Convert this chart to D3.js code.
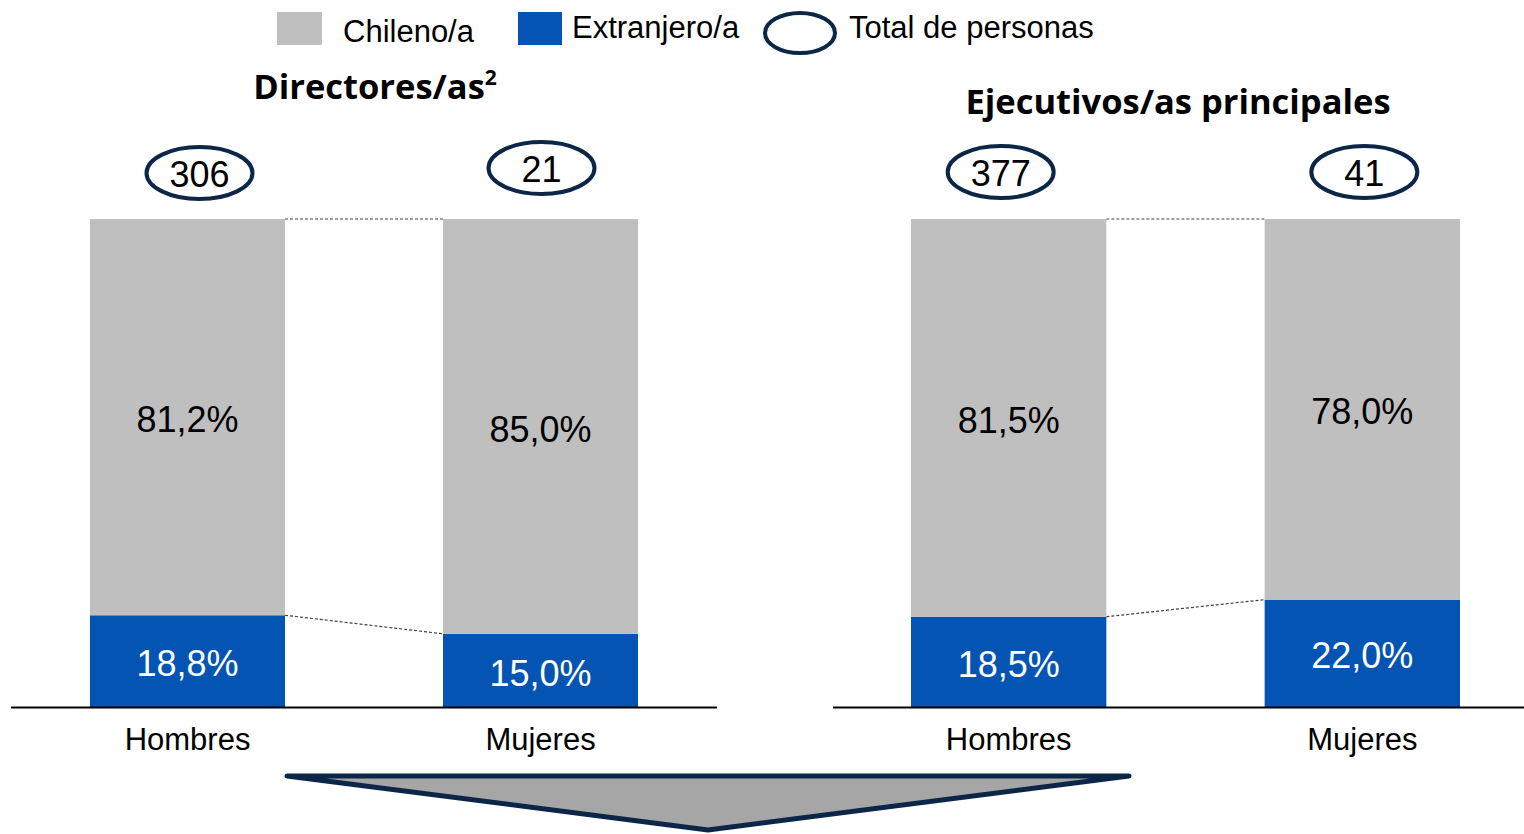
<!DOCTYPE html>
<html>
<head>
<meta charset="utf-8">
<script src="https://cdn.jsdelivr.net/npm/d3@7/dist/d3.min.js"></script>
<style>
  html, body { margin: 0; padding: 0; background: #fff; }
  svg { display: block; }
</style>
</head>
<body>
<svg id="chart" width="1524" height="834"></svg>
<script>
// ---- data ----
const categories = ["Hombres", "Mujeres"];
const panels = ["Directores/as", "Ejecutivos/as principales"];
const chilenoValues = [[81.2, 85.0], [81.5, 78.0]];
const extranjeroValues = [[18.8, 15.0], [18.5, 22.0]];
const totals = [[306, 21], [377, 41]];
const legendLabels = ["Chileno/a", "Extranjero/a", "Total de personas"];

// ---- style / layout ----
const GRAY = "#bfbfbf", BLUE = "#0455b3", NAVY = "#0c2647";
const FONT = "'Liberation Sans', Arial, sans-serif";
const TITLE_FONT = "'Open Sans', 'Noto Sans', sans-serif";
const layout = [
  { range: [90, 638], axis: [11, 717], titleX: 375, titleY: 99, ellDx: [12, 1], ellY: [173, 168] },
  { range: [911, 1460], axis: [833, 1524], titleX: 1178, titleY: 114, ellDx: [-8, 2], ellY: [172, 172] }
];
const fmt = v => d3.format(".1f")(v).replace(".", ",") + "%";

const svg = d3.select("#chart");
const y = d3.scaleLinear().domain([0, 100]).range([707, 219]);

panels.forEach((title, p) => {
  const L = layout[p];
  const x = d3.scaleBand().domain(categories).range(L.range).paddingInner(158 / 353).paddingOuter(0);
  const g = svg.append("g");
  const bw = x.bandwidth();

  // dashed connectors
  const conn = [
    [100, 100],
    [extranjeroValues[p][0], extranjeroValues[p][1]]
  ];
  conn.forEach(c => {
    g.append("line")
      .attr("x1", x(categories[0]) + bw).attr("y1", y(c[0]))
      .attr("x2", x(categories[1])).attr("y2", y(c[1]))
      .attr("stroke", "#404040").attr("stroke-width", 1.2)
      .attr("stroke-dasharray", "3,2");
  });

  categories.forEach((cat, i) => {
    const ext = extranjeroValues[p][i], chi = chilenoValues[p][i];
    // blue (bottom)
    g.append("rect").attr("x", x(cat)).attr("width", bw)
      .attr("y", y(ext)).attr("height", y(0) - y(ext)).attr("fill", BLUE);
    // gray (top)
    g.append("rect").attr("x", x(cat)).attr("width", bw)
      .attr("y", y(ext + chi)).attr("height", y(ext) - y(ext + chi)).attr("fill", GRAY);
    // labels
    g.append("text").attr("x", x(cat) + bw / 2).attr("y", (y(ext) + y(ext + chi)) / 2)
      .attr("dy", "0.42em").attr("text-anchor", "middle")
      .attr("font-family", FONT).attr("font-size", 36).attr("fill", "#000")
      .text(fmt(chi));
    g.append("text").attr("x", x(cat) + bw / 2).attr("y", (y(0) + y(ext)) / 2)
      .attr("dy", "0.42em").attr("text-anchor", "middle")
      .attr("font-family", FONT).attr("font-size", 36).attr("fill", "#fff")
      .text(fmt(ext));
    // total ellipse
    const cx = x(cat) + bw / 2 + L.ellDx[i], cy = L.ellY[i];
    g.append("ellipse").attr("cx", cx).attr("cy", cy).attr("rx", 53).attr("ry", 26)
      .attr("fill", "none").attr("stroke", NAVY).attr("stroke-width", 4);
    g.append("text").attr("x", cx).attr("y", cy).attr("dy", "0.38em")
      .attr("text-anchor", "middle").attr("font-family", FONT).attr("font-size", 36)
      .attr("fill", "#000").text(totals[p][i]);
  });

  // axis
  const axis = d3.axisBottom(x).tickSize(0).tickPadding(21);
  const ag = g.append("g").attr("transform", `translate(0,${y(0)})`).call(axis);
  ag.select(".domain").remove();
  ag.selectAll("text").attr("font-family", FONT).attr("font-size", 31).attr("fill", "#000");
  g.append("line").attr("x1", L.axis[0]).attr("x2", L.axis[1])
    .attr("y1", y(0) + 0.5).attr("y2", y(0) + 0.5).attr("stroke", "#000").attr("stroke-width", 2);

  // title
  const t = g.append("text").attr("x", L.titleX).attr("y", L.titleY)
    .attr("text-anchor", "middle").attr("font-family", TITLE_FONT)
    .attr("font-weight", "bold").attr("font-size", 34.5).attr("fill", "#000")
    .text(title);
  if (p === 0) t.append("tspan").attr("font-size", 21).attr("dy", -14).text("2");
});

// legend
const lg = svg.append("g");
lg.append("rect").attr("x", 277).attr("y", 12).attr("width", 45).attr("height", 33).attr("fill", GRAY);
lg.append("text").attr("x", 343).attr("y", 42).attr("font-family", FONT).attr("font-size", 31).text(legendLabels[0]);
lg.append("rect").attr("x", 518).attr("y", 12).attr("width", 44).attr("height", 33).attr("fill", BLUE);
lg.append("text").attr("x", 572).attr("y", 38).attr("font-family", FONT).attr("font-size", 31).text(legendLabels[1]);
lg.append("ellipse").attr("cx", 800).attr("cy", 33).attr("rx", 35).attr("ry", 20)
  .attr("fill", "none").attr("stroke", NAVY).attr("stroke-width", 4);
lg.append("text").attr("x", 849).attr("y", 38).attr("font-family", FONT).attr("font-size", 31).text(legendLabels[2]);

// bottom arrow
svg.append("path")
  .attr("d", "M287,776 L1129,776 L708,830 Z")
  .attr("fill", "#a6a6a6").attr("stroke", NAVY).attr("stroke-width", 5)
  .attr("stroke-linejoin", "round").attr("stroke-linecap", "round");
</script>
</body>
</html>
